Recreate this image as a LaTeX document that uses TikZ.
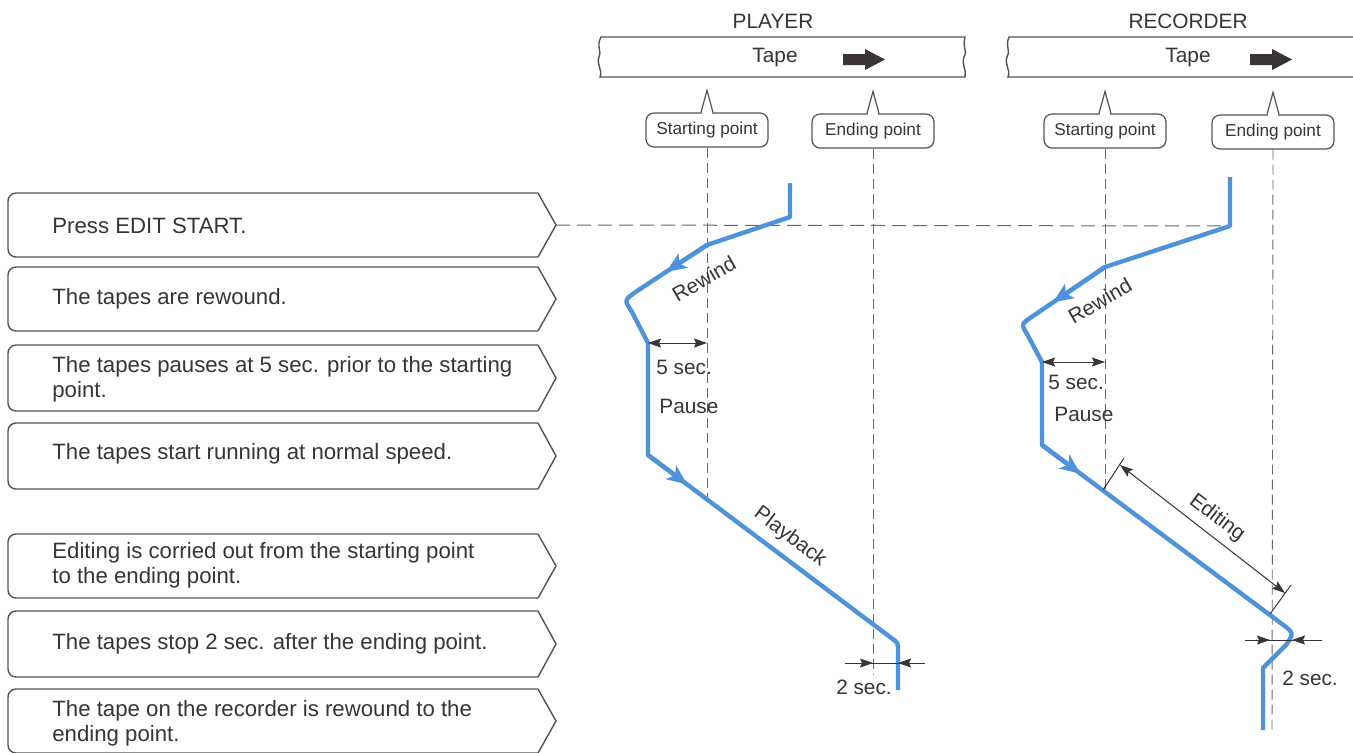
\documentclass[tikz,border=0pt]{standalone}
\usepackage{fontspec}
\setmainfont{Liberation Sans}
\usetikzlibrary{arrows.meta,calc}
\definecolor{ink}{RGB}{58,52,52}
\definecolor{frame}{RGB}{85,82,82}
\definecolor{tapeblue}{RGB}{78,146,218}
\definecolor{dashgray}{RGB}{105,105,105}
\begin{document}
\begin{tikzpicture}[x=0.5pt,y=-0.5pt,
  boxline/.style={draw=frame, line width=0.7pt},
  steptext/.style={anchor=west, align=left, text=ink, inner sep=0pt,
    font=\fontsize{11.1}{12.4}\selectfont},
  lbl/.style={text=ink, inner sep=1pt, font=\fontsize{10.4}{12}\selectfont},
  callout/.style={draw=frame, line width=0.6pt, rounded corners=4pt,
    minimum width=61pt, minimum height=17pt, inner sep=0pt, text=ink,
    font=\fontsize{8.6}{10}\selectfont},
  spike/.style={draw=frame, line width=0.6pt, line join=miter},
  vdash/.style={draw=dashgray, line width=0.45pt, dash pattern=on 5pt off 2.5pt},
  hdash/.style={draw=dashgray, line width=0.5pt, dash pattern=on 7pt off 3.5pt},
  blueline/.style={draw=tapeblue, line width=2.2pt, line join=round},
  bluetip/.style={draw=tapeblue, line width=2.2pt,
    -{Stealth[length=10pt,width=8.5pt,inset=2.5pt]}},
  dim/.style={draw=ink, line width=0.5pt},
  dimtip/.style={dim, -{Stealth[length=6.5pt,width=4.5pt,inset=1pt]}},
  dimboth/.style={dim, {Stealth[length=6.5pt,width=4.5pt,inset=1pt]}-{Stealth[length=6.5pt,width=4.5pt,inset=1pt]}}
]
\useasboundingbox (0,0) rectangle (1353,752);
\fill[white] (0,0) rectangle (1353,752);

% ---------- left step boxes ----------
\newcommand\chevbox[2]{%
  \draw[boxline, rounded corners=4pt] (538,#1) -- (8,#1) -- (8,#2) -- (538,#2);
  \draw[boxline] (538,#1) -- (556,{(#1+#2)/2}) -- (538,#2);}
\chevbox{193}{257}
\chevbox{267}{331}
\chevbox{345}{411}
\chevbox{423}{489}
\chevbox{534}{598}
\chevbox{611}{677}
\chevbox{689}{753}
\coordinate (tip1) at (556,225);

\node[steptext] (s1) at (52,226) {Press EDIT START.};
\node[steptext] (s2) at (52,299) {The tapes are rewound.};
\node[steptext] (s3) at (52,379) {The tapes pauses at 5 sec. prior to the starting\\point.};
\node[steptext] (s4) at (52,454) {The tapes start running at normal speed.};
\node[steptext] (s5) at (52,565) {Editing is corried out from the starting point\\to the ending point.};
\node[steptext] (s6) at (52,644) {The tapes stop 2 sec. after the ending point.};
\node[steptext] (s7) at (52,723) {The tape on the recorder is rewound to the\\ending point.};

% ---------- tapes ----------
\draw[boxline] (601,37) -- (965,37) .. controls (962,47) and (968,52) .. (964,57)
  .. controls (961,64) and (967,70) .. (965,77) -- (600,77)
  .. controls (603,70) and (596,64) .. (599,57) .. controls (602,52) and (596,46) .. (601,37) -- cycle;
\draw[boxline] (1353,37) -- (1009,37) .. controls (1005,46) and (1011,52) .. (1007,57)
  .. controls (1004,64) and (1011,70) .. (1008,77) -- (1353,77);

\node[lbl] (player) at (773,21) {PLAYER};
\node[lbl] (recorder) at (1188,21) {RECORDER};
\node[lbl] (tape1) at (775,57) {Tape};
\node[lbl] (tape2) at (1188,57) {Tape};
\fill[ink] (843,54) -- (865,54) -- (865,49) -- (885,59.5) -- (865,70) -- (865,65) -- (843,65) -- cycle;
\fill[ink] (1250,54) -- (1272,54) -- (1272,49) -- (1292,59.5) -- (1272,70) -- (1272,65) -- (1250,65) -- cycle;

% ---------- callouts ----------
\node[callout] (ps) at (707,130) {Starting point};
\node[callout] (pe) at (873,131) {Ending point};
\node[callout] (rs) at (1105,131) {Starting point};
\node[callout] (re) at (1273,132) {Ending point};
\foreach \c in {ps,pe,rs,re}{
  \draw[white, line width=1.4pt] ([xshift=-2.6pt]\c.north) -- ([xshift=2.6pt]\c.north);
  \draw[spike] ([xshift=-3pt]\c.north) -- ([yshift=11pt]\c.north) -- ([xshift=3pt]\c.north);
}

% ---------- player curve ----------
\coordinate (p0) at (790,183);
\coordinate (p1) at (790,217);
\coordinate (p2) at (707,245);
\coordinate (p3) at (637,291);
\coordinate (p4) at (632,312);
\coordinate (p5) at (648,343);
\coordinate (p6) at (648,455);
\coordinate (p7) at (892,638.5);
\coordinate (p8) at (898,650);
\coordinate (p9) at (898,690);
\coordinate (pstart) at (707,499);
\coordinate (pend) at (873,675);

% ---------- recorder curve ----------
\coordinate (r0) at (1230,177);
\coordinate (r1) at (1230,226);
\coordinate (r2) at (1105,267);
\coordinate (r3) at (1033,316);
\coordinate (r4) at (1027,334);
\coordinate (r5) at (1042,362);
\coordinate (r6) at (1042,445);
\coordinate (r7) at (1282,624);
\coordinate (r8) at (1286,645);
\coordinate (r9) at (1263,668);
\coordinate (r10) at (1263,730);
\coordinate (rstart) at (1105,492);
\coordinate (rend) at (1272,730);

% dashed guide lines
\draw[vdash] (ps.south) -- (pstart);
\draw[vdash] (pe.south) -- (pend);
\draw[vdash] (rs.south) -- (rstart);
\draw[vdash] (re.south) -- (rend);
\draw[hdash] (tip1) -- (r1);

% blue paths
\draw[blueline] (p0) -- (p1) -- (p2) -- (p3) .. controls (624,300) .. (p4) -- (p5) -- (p6) -- (p7)
  .. controls (898,643) .. (p8) -- (p9);
\draw[bluetip] (p2) -- ($(p2)!0.58!(p3)$);
\draw[bluetip] (p6) -- ($(p6)!0.16!(p7)$);

\draw[blueline] (r0) -- (r1) -- (r2) -- (r3) .. controls (1021,324) .. (r4) -- (r5) -- (r6) -- (r7)
  .. controls (1294,633) .. (r8) -- (r9) -- (r10);
\draw[bluetip] (r2) -- ($(r2)!0.72!(r3)$);
\draw[bluetip] (r6) -- ($(r6)!0.16!(r7)$);

% ---------- dimensions ----------
\draw[dimboth] (648,343) -- (707,343);
\draw[dimboth] (1042,362) -- (1105,362);

\draw[dim] (845,663) -- (925,663);
\draw[dimtip] (845,663) -- (873,663);
\draw[dimtip] (925,663) -- (898,663);

\draw[dim] (1245,640) -- (1322,640);
\draw[dimtip] (1245,640) -- (1270,640);
\draw[dimtip] (1322,640) -- (1292,640);

\draw[dim] (1103,490) -- (1124,458);
\draw[dim] (1270,614) -- (1291,585);
\draw[dimboth] (1120,465) -- (1285,593);

% ---------- labels ----------
\node[lbl, rotate=30] (prw) at (704,279) {Rewind};
\node[lbl, anchor=west] (p5s) at (654,367) {5 sec.};
\node[lbl, anchor=west] (ppa) at (657,406) {Pause};
\node[lbl, rotate=-37] (ppb) at (790,537) {Playback};
\node[lbl] (p2s) at (864,687) {2 sec.};

\node[lbl, rotate=30] (rrw) at (1100,301) {Rewind};
\node[lbl, anchor=west] (r5s) at (1046,382) {5 sec.};
\node[lbl, anchor=west] (rpa) at (1052,414) {Pause};
\node[lbl, rotate=-37] (red) at (1217,518) {Editing};
\node[lbl] (r2s) at (1310,678) {2 sec.};
\end{tikzpicture}
\end{document}
